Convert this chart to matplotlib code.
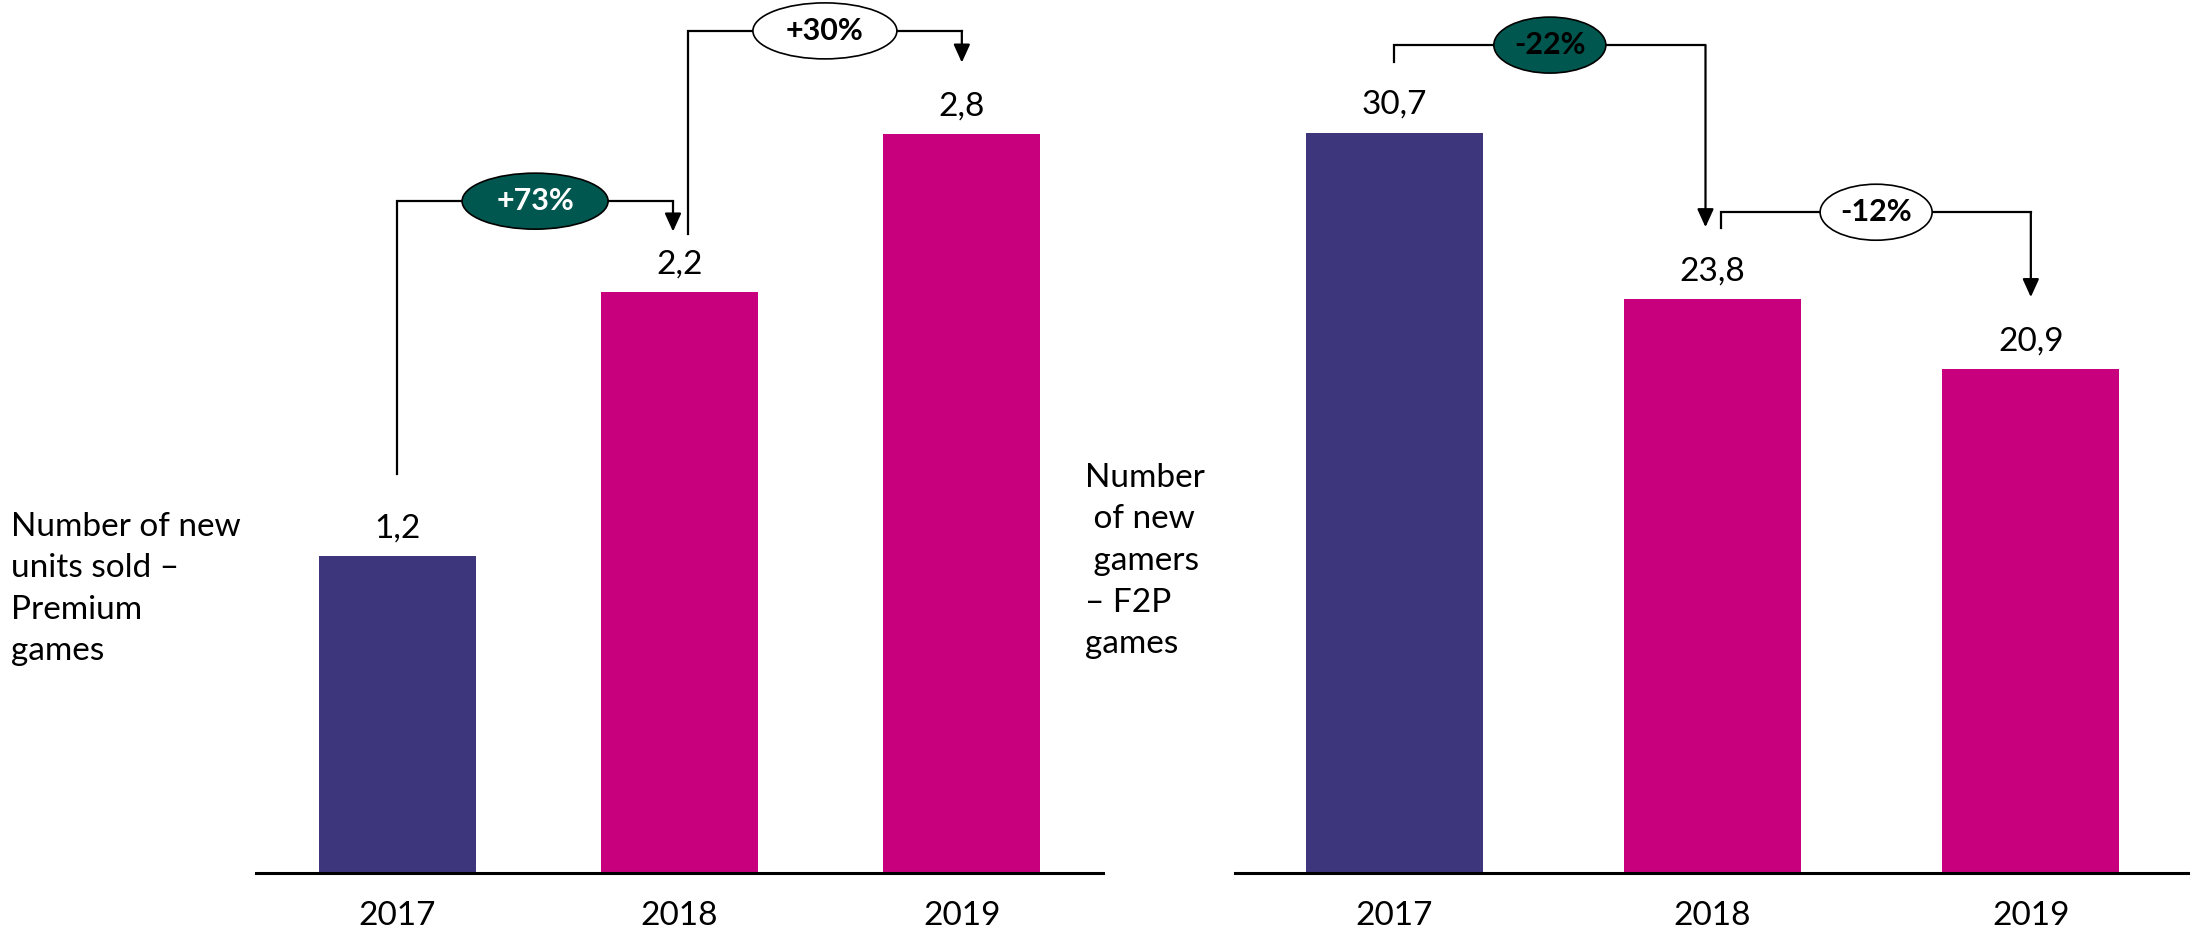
import matplotlib
matplotlib.use("Agg")
import matplotlib.pyplot as plt
from matplotlib.patches import Ellipse
from matplotlib.transforms import ScaledTranslation

plt.rcParams['font.family'] = ['Lato', 'DejaVu Sans']

# ======= Data =======
years = ["2017", "2018", "2019"]
premium_units = [1.2, 2.2, 2.8]
f2p_gamers = [30.7, 23.8, 20.9]
premium_growth = ["+73%", "+30%"]
f2p_growth = ["-22%", "-12%"]
premium_label = "Number of new\nunits sold \u2013\nPremium\ngames"
f2p_label = "Number\n of new\n gamers\n\u2013 F2P\ngames"

# ======= Style =======
purple = "#3D367C"
magenta = "#C8007D"
green = "#00574F"
bar_colors = [purple, magenta, magenta]
font_size = 24

# bracket layout: x start, x arrow, y start, y level, y arrow tip, ellipse w/h (px), fill, text colour
premium_brackets = [
    (0.0, 0.977, 1.51, 2.545, 2.43, 146, 56, green, "white"),
    (1.03, 2.0, 2.42, 3.19, 3.07, 144, 56, "white", "black"),
]
f2p_brackets = [
    (0.0, 0.978, 33.62, 34.33, 26.78, 112, 56, green, "black"),
    (1.028, 2.0, 26.74, 27.40, 23.88, 112, 56, "white", "black"),
]

fig = plt.figure(figsize=(21.9, 9.33), dpi=100)
ax1 = fig.add_axes([256 / 2190, 60 / 933, 847 / 2190, 873 / 933])
ax2 = fig.add_axes([1235 / 2190, 60 / 933, 955 / 2190, 873 / 933])


def draw_panel(ax, values, ytop, growth, brackets):
    x = list(range(len(values)))
    ax.bar(x, values, width=0.555, color=bar_colors)
    ax.set_xlim(-0.5, 2.5)
    ax.set_ylim(0, ytop)
    for s in ["top", "left", "right"]:
        ax.spines[s].set_visible(False)
    ax.spines["bottom"].set_linewidth(2.2)
    ax.set_yticks([])
    ax.set_xticks(x)
    ax.set_xticklabels(years, fontsize=font_size)
    ax.tick_params(axis="x", length=0, pad=20)
    for i, v in enumerate(values):
        ax.annotate(f"{v:.1f}".replace(".", ","), (i, v), xytext=(0, 20),
                    textcoords="offset points", ha="center", va="center",
                    fontsize=font_size)
    for lab, (x0, x1, y0, ylev, y1, w, h, fill, tc) in zip(growth, brackets):
        ax.plot([x0, x0, x1], [y0, ylev, ylev], color="black", lw=1.6,
                solid_joinstyle="miter", clip_on=False, zorder=3)
        ax.annotate("", xy=(x1, y1), xytext=(x1, ylev),
                    arrowprops=dict(arrowstyle="-|>,head_length=0.55,head_width=0.25",
                                    color="black", lw=1.6, shrinkA=0, shrinkB=0,
                                    mutation_scale=20),
                    annotation_clip=False, zorder=3)
        xm = (x0 + x1) / 2
        trans = fig.dpi_scale_trans + ScaledTranslation(xm, ylev, ax.transData)
        ax.add_patch(Ellipse((0, 0), w / 100, h / 100, transform=trans,
                             facecolor=fill, edgecolor="black", lw=1.2,
                             zorder=4, clip_on=False))
        ax.text(xm, ylev, lab, ha="center", va="center", fontsize=22,
                fontweight="bold", color=tc, zorder=5)


draw_panel(ax1, premium_units, 3.307, premium_growth, premium_brackets)
draw_panel(ax2, f2p_gamers, 36.2, f2p_growth, f2p_brackets)

fig.text(11 / 2190, 1 - 589 / 933, premium_label, ha="left", va="center",
         fontsize=font_size, linespacing=1.48)
fig.text(1085 / 2190, 1 - 561 / 933, f2p_label, ha="left", va="center",
         fontsize=font_size, linespacing=1.48)

fig.savefig("out.png", dpi=100)
